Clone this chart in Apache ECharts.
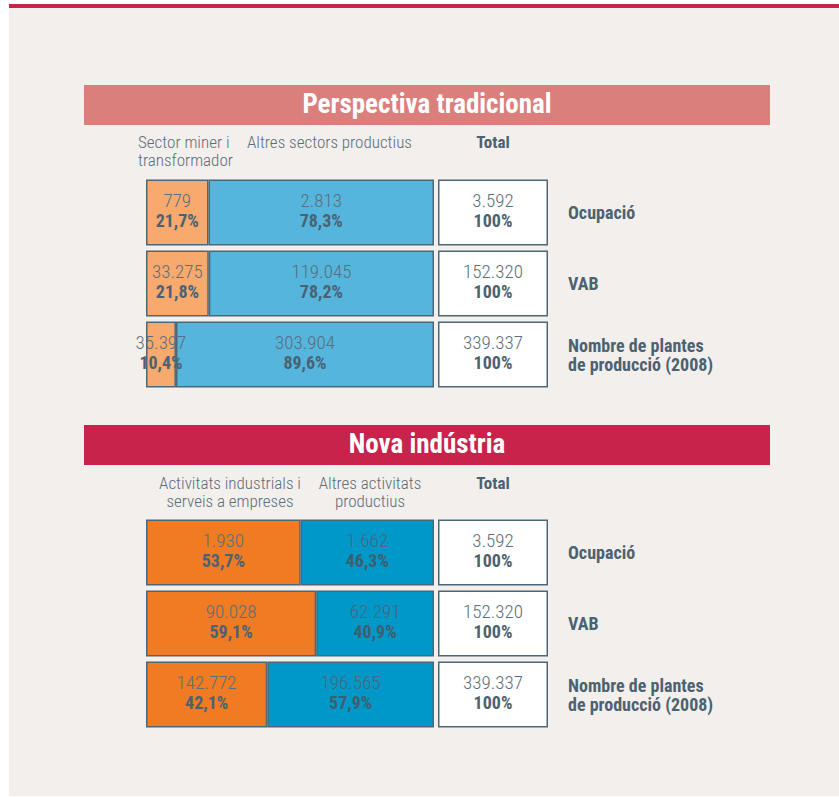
<!DOCTYPE html>
<html><head><meta charset="utf-8">
<script src="https://cdn.jsdelivr.net/npm/echarts@6/dist/echarts.min.js"></script>
<style>html,body{margin:0;padding:0;background:#fff}#c{width:839px;height:797px}
#c svg text, #c svg tspan { font-stretch: condensed !important; }
</style>
</head><body><div id="c"></div>
<script>
// ---- data ----
const rows = ['Ocupació', 'VAB', 'Nombre de plantes\nde producció (2008)'];
const totals = [3592, 152320, 339337];
const totalPct = [100, 100, 100];
// Perspectiva tradicional
const tradMiner = [779, 33275, 35397];
const tradMinerPct = [21.7, 21.8, 10.4];
const tradAltres = [2813, 119045, 303904];
const tradAltresPct = [78.3, 78.2, 89.6];
// Nova indústria
const novaActiv = [1930, 90028, 142772];
const novaActivPct = [53.7, 59.1, 42.1];
const novaAltres = [1662, 62291, 196565];
const novaAltresPct = [46.3, 40.9, 57.9];

const titles = ['Perspectiva tradicional', 'Nova indústria'];
const colHeads1 = ['Sector miner i\ntransformador', 'Altres sectors productius', 'Total'];
const colHeads2 = ['Activitats industrials i\nserveis a empreses', 'Altres activitats\nproductius', 'Total'];

// ---- helpers ----
const FONT = "Roboto, 'Open Sans', sans-serif";
const W_LIGHT = 300;
const W_BOLD = 'bold';
const TXT = '#5a6e7b';
const DARK = '#4b6272';
const BORDER = '#4e6777';
function fmtNum(n) { return String(n).replace(/\B(?=(\d{3})+(?!\d))/g, '.'); }
function fmtPct(p) { return p === 100 ? '100%' : p.toFixed(1).replace('.', ',') + '%'; }

function mkRich(vc, pc) {
  return {
    v: { fontFamily: FONT, fontSize: 19, fontWeight: W_LIGHT, color: vc, lineHeight: 20, align: 'center' },
    p: { fontFamily: FONT, fontSize: 18, fontWeight: W_BOLD, color: pc, lineHeight: 20, align: 'center' }
  };
}
function seg(name, pct, vals, color, xi, vc, pc) {
  return {
    type: 'bar', name: name, stack: 's' + xi, xAxisIndex: xi, yAxisIndex: xi,
    barWidth: 66, data: pct,
    itemStyle: { color: color, borderColor: BORDER, borderWidth: 1.5 },
    label: {
      show: true, position: 'inside', offset: [0, -2],
      formatter: p => '{v|' + fmtNum(vals[p.dataIndex]) + '}\n{p|' + fmtPct(pct[p.dataIndex]) + '}',
      rich: mkRich(vc || TXT, pc || DARK)
    },
    emphasis: { disabled: true }, animation: false
  };
}

const gridTops = [177, 517];
const grids = [], xAxes = [], yAxes = [];
gridTops.forEach(t => {
  grids.push({ left: 146, top: t, width: 288, height: 213 });
  grids.push({ left: 438, top: t, width: 110, height: 213 });
});
for (let i = 0; i < 4; i++) {
  xAxes.push({ type: 'value', gridIndex: i, min: 0, max: 100, show: false });
  const isTot = i % 2 === 1;
  yAxes.push({
    type: 'category', gridIndex: i, data: rows, inverse: true,
    position: 'right',
    axisLine: { show: false }, axisTick: { show: false }, splitLine: { show: false },
    axisLabel: isTot ? {
      show: true, margin: 20, align: 'left', fontFamily: FONT, fontSize: 18,
      fontWeight: W_BOLD, color: DARK, lineHeight: 19
    } : { show: false }
  });
}

const series = [
  seg('Sector miner i transformador', tradMinerPct, tradMiner, '#f8a96e', 0),
  seg('Altres sectors productius', tradAltresPct, tradAltres, '#55b5dd', 0),
  seg('Total', totalPct, totals, '#ffffff', 1),
  seg('Activitats industrials i serveis a empreses', novaActivPct, novaActiv, '#f07b22', 2),
  seg('Altres activitats productius', novaAltresPct, novaAltres, '#0097c9', 2, '#48697b', '#3f5f70'),
  seg('Total', totalPct, totals, '#ffffff', 3)
];

const headStyle = { fontFamily: FONT, fontSize: 17, fontWeight: W_LIGHT, fill: TXT, lineHeight: 18, verticalAlign: 'top' };
const titleStyle = { fontFamily: FONT, fontSize: 27, fontWeight: W_BOLD, fill: '#fff', align: 'center', verticalAlign: 'middle' };
const graphic = [
  { type: 'rect', shape: { x: 9, y: 8, width: 830, height: 788 }, style: { fill: '#f3efec' }, z: -10 },
  { type: 'rect', shape: { x: 9, y: 4, width: 830, height: 4 }, style: { fill: '#c8234a' }, z: -10 },
  { type: 'rect', shape: { x: 84, y: 85, width: 686, height: 40 }, style: { fill: '#db7f7c' }, z: -10 },
  { type: 'rect', shape: { x: 84, y: 425, width: 686, height: 40 }, style: { fill: '#c8234a' }, z: -10 },
  { type: 'text', x: 427, y: 104, style: Object.assign({ text: titles[0] }, titleStyle) },
  { type: 'text', x: 427, y: 444, style: Object.assign({ text: titles[1] }, titleStyle) },
  { type: 'text', x: 138, y: 133, style: Object.assign({ text: colHeads1[0], align: 'left' }, headStyle) },
  { type: 'text', x: 247, y: 133, style: Object.assign({ text: colHeads1[1], align: 'left' }, headStyle) },
  { type: 'text', x: 493, y: 133, style: Object.assign({ text: colHeads1[2], align: 'center' }, headStyle, { fontWeight: W_BOLD, fill: DARK }) },
  { type: 'text', x: 230, y: 474, style: Object.assign({ text: colHeads2[0], align: 'center' }, headStyle) },
  { type: 'text', x: 370, y: 474, style: Object.assign({ text: colHeads2[1], align: 'center' }, headStyle) },
  { type: 'text', x: 493, y: 474, style: Object.assign({ text: colHeads2[2], align: 'center' }, headStyle, { fontWeight: W_BOLD, fill: DARK }) }
];

const chart = echarts.init(document.getElementById('c'), null, { renderer: 'svg' });
chart.setOption({
  backgroundColor: '#ffffff',
  animation: false,
  grid: grids, xAxis: xAxes, yAxis: yAxes, series: series, graphic: graphic
});
</script></body></html>
